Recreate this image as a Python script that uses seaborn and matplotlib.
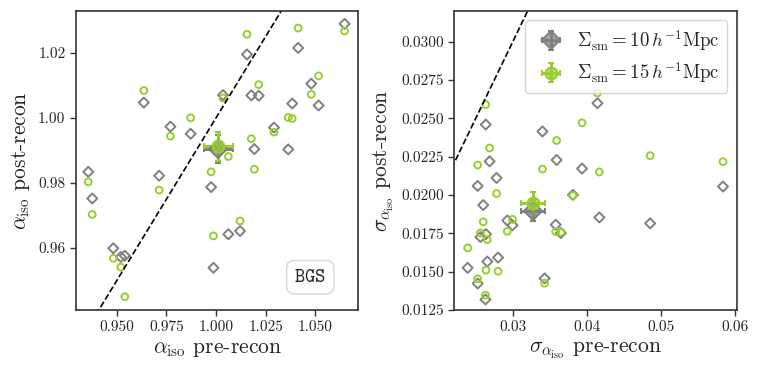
import numpy as np
import matplotlib
matplotlib.use("Agg")
import matplotlib.pyplot as plt
import seaborn as sns

# alpha_iso pre-recon (same mocks for both smoothing scales)
alpha_pre = [0.9356, 0.9376, 0.9482, 0.9520, 0.9540, 0.9636, 0.9713, 0.9770, 0.9872, 0.9975,
             0.9987, 1.0035, 1.0062, 1.0121, 1.0156, 1.0178, 1.0193, 1.0215, 1.0292, 1.0364,
             1.0384, 1.0414, 1.0480, 1.0517, 1.0648]
# alpha_iso post-recon
alpha_post_10 = [0.9834, 0.9752, 0.9599, 0.9572, 0.9576, 1.0047, 0.9822, 0.9973, 0.9951, 0.9787,
                 0.9539, 1.0070, 0.9642, 0.9652, 1.0195, 1.0069, 0.9904, 1.0068, 0.9970, 0.9903,
                 1.0044, 1.0215, 1.0105, 1.0038, 1.0289]
alpha_post_15 = [0.9803, 0.9703, 0.9568, 0.9541, 0.9450, 1.0084, 0.9778, 0.9944, 1.0000, 0.9834,
                 0.9637, 1.0061, 0.9881, 0.9683, 1.0257, 0.9936, 0.9842, 1.0102, 0.9956, 1.0001,
                 0.9998, 1.0276, 1.0072, 1.0129, 1.0267]

# sigma_alpha_iso pre-recon
sigma_pre = [0.02390, 0.02525, 0.02525, 0.02562, 0.02600, 0.02630, 0.02634, 0.02637, 0.02655, 0.02686,
             0.02780, 0.02800, 0.02925, 0.02995, 0.03399, 0.03428, 0.03578, 0.03590, 0.03648, 0.03810,
             0.03933, 0.04141, 0.04166, 0.04852, 0.05834]
# sigma_alpha_iso post-recon
sigma_post_10 = [0.01525, 0.02059, 0.01423, 0.01726, 0.01934, 0.01319, 0.02459, 0.01745, 0.01566, 0.02219,
                 0.02111, 0.01592, 0.01834, 0.01802, 0.02414, 0.01456, 0.01806, 0.02228, 0.01752, 0.02001,
                 0.02172, 0.02598, 0.01854, 0.01815, 0.02055]
sigma_post_15 = [0.01655, 0.02195, 0.01453, 0.01752, 0.01825, 0.01347, 0.02589, 0.01510, 0.01709, 0.02306,
                 0.02009, 0.01503, 0.01763, 0.01841, 0.02169, 0.01425, 0.01761, 0.02355, 0.01758, 0.01996,
                 0.02470, 0.02665, 0.02150, 0.02256, 0.02217]

labels = [r"$\Sigma_{\rm sm} = 10\,h^{-1}{\rm Mpc}$", r"$\Sigma_{\rm sm} = 15\,h^{-1}{\rm Mpc}$"]
colors = ["grey", "yellowgreen"]
markers = ["D", "o"]

sns.set_style("ticks")
plt.rcParams["font.family"] = "serif"
plt.rcParams["font.serif"] = ["cmr10", "DejaVu Serif"]
plt.rcParams["mathtext.fontset"] = "cm"
plt.rcParams["axes.formatter.use_mathtext"] = True
plt.rcParams["axes.edgecolor"] = "#333333"
plt.rcParams["axes.linewidth"] = 1.2

fig, axes = plt.subplots(1, 2, figsize=(7.58, 3.74), dpi=100)
fig.subplots_adjust(left=0.100, right=0.972, top=0.971, bottom=0.171, wspace=0.34)


def panel(ax, x, ys):
    x = np.asarray(x)
    for y, c, m in zip(ys, colors, markers):
        sns.scatterplot(x=x, y=np.asarray(y), ax=ax, marker=m, s=26 if m == "D" else 24,
                        color=c, facecolor="none", edgecolor=c, linewidth=1.4)
    for y, c, m, lab in zip(ys, colors, markers, labels):
        y = np.asarray(y)
        n = len(y)
        ax.errorbar(x.mean(), y.mean(), xerr=x.std() / np.sqrt(n), yerr=y.std() / np.sqrt(n),
                    fmt=m, color=c, mec=c, mfc=matplotlib.colors.to_rgba(c, 0.7),
                    ms=9 if m == "D" else 8.5, mew=1.5, elinewidth=2.2, capsize=2.5, capthick=1.5,
                    label=lab, zorder=5)
    # one-to-one line
    ax.plot([0, 2], [0, 2], "k--", lw=1.2, zorder=1)


ax = axes[0]
panel(ax, alpha_pre, [alpha_post_10, alpha_post_15])
ax.set_xlim(0.9293, 1.0717)
ax.set_ylim(0.9409, 1.0329)
ax.set_xticks([0.950, 0.975, 1.000, 1.025, 1.050])
ax.set_xticklabels(["0.950", "0.975", "1.000", "1.025", "1.050"])
ax.set_yticks([0.96, 0.98, 1.00, 1.02])
ax.set_yticklabels(["0.96", "0.98", "1.00", "1.02"])
ax.set_xlabel(r"$\alpha_{\rm iso}$ pre-recon", fontsize=15.5)
ax.set_ylabel(r"$\alpha_{\rm iso}$ post-recon", fontsize=15.5)
ax.text(0.83, 0.11, r"$\mathtt{BGS}$", transform=ax.transAxes, ha="center", va="center",
        fontsize=14, bbox=dict(boxstyle="round,pad=0.4", fc="white", ec="#d8d8d8", lw=1.0))

ax = axes[1]
panel(ax, sigma_pre, [sigma_post_10, sigma_post_15])
ax.set_xlim(0.0221, 0.0602)
ax.set_ylim(0.0125, 0.0320)
ax.set_xticks([0.03, 0.04, 0.05, 0.06])
ax.set_xticklabels(["0.03", "0.04", "0.05", "0.06"])
yt = [0.0125, 0.0150, 0.0175, 0.0200, 0.0225, 0.0250, 0.0275, 0.0300]
ax.set_yticks(yt)
ax.set_yticklabels([f"{v:.4f}" for v in yt])
ax.set_xlabel(r"$\sigma_{\alpha_{\rm iso}}$ pre-recon", fontsize=15.5)
ax.set_ylabel(r"$\sigma_{\alpha_{\rm iso}}$ post-recon", fontsize=15.5)
ax.legend(loc="upper right", fontsize=13.5, handletextpad=0.4, borderpad=0.4, labelspacing=0.4,
          handlelength=2.0)

for ax in axes:
    ax.tick_params(labelsize=11, length=4, width=1.0, color="#333333")

fig.savefig("out.png", dpi=100)
